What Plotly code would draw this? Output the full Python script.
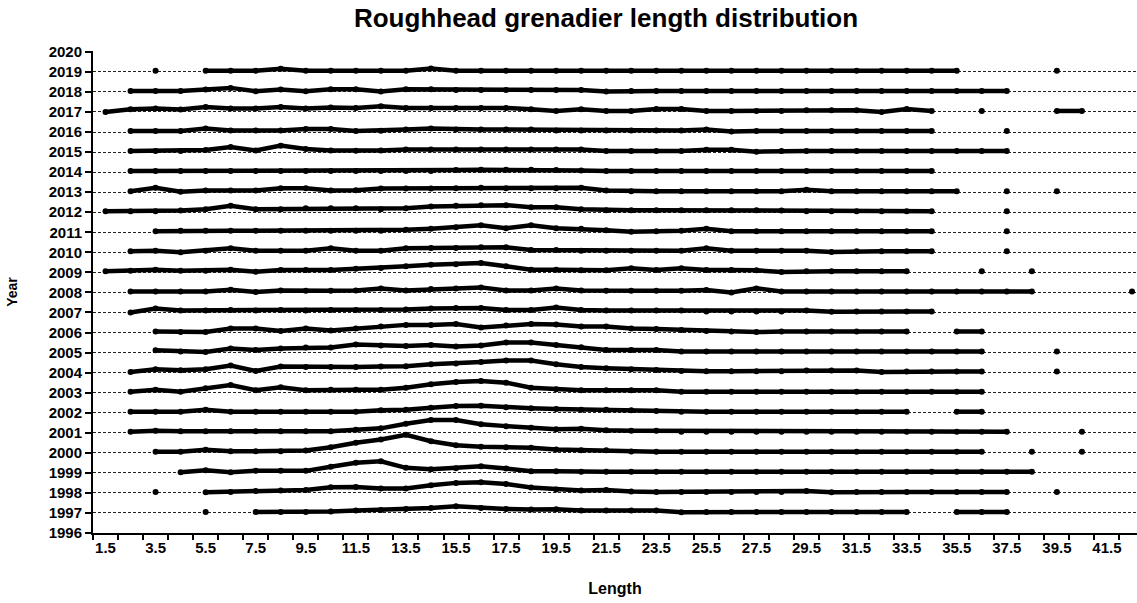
import plotly.graph_objects as go

N = None
lengths = [1.5, 2.5, 3.5, 4.5, 5.5, 6.5, 7.5, 8.5, 9.5, 10.5, 11.5, 12.5, 13.5, 14.5,
           15.5, 16.5, 17.5, 18.5, 19.5, 20.5, 21.5, 22.5, 23.5, 24.5, 25.5, 26.5, 27.5,
           28.5, 29.5, 30.5, 31.5, 32.5, 33.5, 34.5, 35.5, 36.5, 37.5, 38.5, 39.5, 40.5,
           41.5, 42.5]
x_labels = ["1.5", "3.5", "5.5", "7.5", "9.5", "11.5", "13.5", "15.5", "17.5", "19.5", "21.5",
            "23.5", "25.5", "27.5", "29.5", "31.5", "33.5", "35.5", "37.5", "39.5", "41.5"]
class_bounds = [1, 2, 3, 4, 5, 6, 7, 8, 9, 10, 11, 12, 13, 14, 15, 16, 17, 18, 19, 20, 21,
                22, 23, 24, 25, 26, 27, 28, 29, 30, 31, 32, 33, 34, 35, 36, 37, 38, 39, 40,
                41, 42]
years = list(range(1996, 2021))

# relative frequency (offset above the year baseline), one value per length class
f1997 = [N, N, N, N, .05, N, .05, .05, .05, .07,
         .12, .15, .2, .25, .33, .25, .2, .17, .18, .12,
         .12, .12, .12, .04, .05, .05, .05, .05, .05, .05,
         .05, .05, .05, N, .05, .05, .05, N, N, N, N, N]
f1998 = [N, N, .05, N, .03, .05, .1, .12, .15, .28,
         .3, .22, .22, .38, .5, .53, .45, .27, .17, .12,
         .15, .07, .05, .05, .05, .05, .05, .05, .1, .03,
         .05, .05, .05, .05, .05, .05, .05, N, .05, N, N, N]
f1999 = [N, N, N, .03, .13, .03, .1, .1, .1, .3,
         .5, .58, .25, .18, .23, .33, .22, .08, .08, .05,
         .05, .05, .05, .05, .05, .05, .05, .05, .05, .05,
         .05, .05, .05, .05, .05, .05, .05, .05, N, N, N, N]
f2000 = [N, N, .05, .05, .15, .08, .08, .08, .12, .28,
         .5, .66, .9, .58, .38, .3, .28, .25, .17, .13,
         .13, .07, .05, .05, .05, .05, .05, .05, .05, .05,
         .05, .05, .05, .05, .05, .05, N, .05, N, .05, N, N]
f2001 = [N, .05, .1, .08, .08, .08, .08, .08, .08, .08,
         .15, .22, .45, .63, .63, .42, .33, .25, .17, .2,
         .12, .1, .1, .05, .05, .05, .05, .05, .05, .05,
         .05, .05, .05, .05, .05, .05, .05, N, N, .05, N, N]
f2002 = [N, .05, .05, .05, .15, .05, .05, .05, .05, .05,
         .05, .12, .15, .25, .33, .35, .27, .22, .18, .15,
         .15, .12, .08, .05, .05, .05, .05, .05, .05, .05,
         .05, .05, .05, N, .05, .05, N, N, N, N, N, N]
f2003 = [N, .05, .15, .05, .22, .38, .12, .27, .12, .15,
         .15, .15, .25, .42, .53, .58, .5, .25, .17, .12,
         .12, .12, .12, .05, .05, .05, .05, .05, .05, .05,
         .05, .05, .05, .05, .05, .05, N, N, N, N, N, N]
f2004 = [N, .03, .17, .12, .17, .35, .08, .3, .28, .28,
         .28, .3, .32, .42, .45, .53, .6, .6, .42, .28,
         .22, .17, .13, .08, .07, .07, .07, .07, .1, .1,
         .1, .03, .05, .05, .05, .05, N, N, .05, N, N, N]
f2005 = [N, N, .12, .05, .03, .2, .13, .2, .25, .25,
         .4, .35, .33, .38, .3, .35, .5, .5, .38, .27,
         .13, .13, .13, .05, .05, .05, .05, .05, .05, .05,
         .05, .05, .05, .05, .05, .05, N, N, .05, N, N, N]
f2006 = [N, N, .05, .02, .02, .2, .2, .08, .2, .1,
         .2, .3, .38, .38, .42, .25, .35, .42, .4, .3,
         .3, .2, .17, .13, .08, .05, .02, .05, .05, .05,
         .05, .05, .05, N, .05, .05, N, N, N, N, N, N]
f2007 = [N, .0, .2, .1, .1, .12, .1, .12, .1, .12,
         .12, .12, .15, .2, .22, .22, .12, .12, .25, .12,
         .1, .1, .1, .1, .05, .05, .05, .05, .1, .03,
         .05, .05, .05, .05, N, N, N, N, N, N, N, N]
f2008 = [N, .05, .05, .05, .05, .13, .02, .1, .08, .08,
         .1, .2, .1, .17, .2, .25, .1, .1, .2, .1,
         .08, .08, .08, .08, .12, .0, .2, .05, .05, .05,
         .05, .05, .05, .05, .05, .05, .05, .05, N, N, N, .05]
f2009 = [.05, .08, .13, .08, .08, .13, .03, .12, .12, .12,
         .18, .22, .3, .38, .4, .47, .3, .13, .13, .1,
         .1, .2, .12, .2, .12, .12, .1, .02, .05, .05,
         .05, .05, .05, N, N, .05, N, .05, N, N, N, N]
f2010 = [N, .05, .08, .0, .08, .2, .08, .08, .08, .2,
         .08, .08, .2, .22, .22, .25, .25, .12, .12, .08,
         .08, .08, .08, .08, .2, .08, .08, .08, .08, .02,
         .05, .05, .05, .05, N, N, .05, N, N, N, N, N]
f2011 = [N, N, .05, .07, .07, .07, .07, .07, .07, .07,
         .07, .07, .12, .18, .25, .35, .2, .35, .2, .17,
         .1, .02, .05, .08, .17, .05, .05, .05, .05, .05,
         .05, .05, .05, .05, N, N, .05, N, N, N, N, N]
f2012 = [.05, .05, .05, .08, .15, .32, .15, .15, .2, .2,
         .2, .15, .2, .28, .32, .35, .35, .25, .25, .15,
         .1, .1, .1, .1, .1, .1, .1, .08, .05, .05,
         .05, .05, .05, .05, N, N, .05, N, N, N, N, N]
f2013 = [N, .05, .22, .02, .08, .08, .08, .2, .2, .08,
         .1, .18, .18, .18, .2, .22, .2, .2, .2, .22,
         .08, .05, .05, .05, .05, .05, .05, .05, .12, .05,
         .05, .05, .05, .05, .05, N, .05, N, .05, N, N, N]
f2014 = [N, .05, .05, .05, .05, .05, .05, .05, .05, .05,
         .05, .05, .05, .05, .1, .12, .12, .12, .1, .08,
         .05, .05, .05, .05, .05, .05, .05, .05, .05, .05,
         .05, .05, .05, .05, N, N, N, N, N, N, N, N]
f2015 = [N, .05, .05, .05, .1, .25, .08, .32, .15, .08,
         .06, .08, .13, .13, .13, .13, .13, .13, .13, .13,
         .05, .05, .05, .05, .12, .12, .02, .05, .05, .05,
         .05, .05, .05, .05, .05, .05, .05, N, N, N, N, N]
f2016 = [N, .05, .05, .05, .17, .08, .08, .08, .15, .15,
         .05, .06, .12, .17, .12, .12, .12, .12, .08, .07,
         .07, .07, .07, .07, .13, .03, .05, .05, .05, .05,
         .05, .05, .05, .05, N, N, .05, N, N, N, N, N]
f2017 = [.0, .13, .17, .12, .25, .17, .17, .25, .17, .22,
         .2, .28, .2, .2, .2, .2, .2, .13, .05, .13,
         .05, .05, .15, .15, .05, .05, .05, .05, .08, .08,
         .08, .0, .15, .05, N, .05, N, N, .05, .05, N, N]
f2018 = [N, .05, .05, .05, .12, .2, .03, .12, .03, .13,
         .13, .02, .13, .13, .1, .1, .1, .1, .1, .1,
         .02, .05, .05, .05, .05, .05, .05, .05, .05, .05,
         .05, .05, .05, .05, .05, .05, .05, N, N, N, N, N]
f2019 = [N, N, .05, N, .05, .05, .05, .15, .05, .05,
         .05, .05, .05, .17, .05, .05, .05, .05, .05, .05,
         .05, .05, .05, .05, .05, .05, .05, .05, .05, .05,
         .05, .05, .05, .05, .05, N, N, N, .05, N, N, N]

series = [(1997, f1997), (1998, f1998), (1999, f1999), (2000, f2000), (2001, f2001),
          (2002, f2002), (2003, f2003), (2004, f2004), (2005, f2005), (2006, f2006),
          (2007, f2007), (2008, f2008), (2009, f2009), (2010, f2010), (2011, f2011),
          (2012, f2012), (2013, f2013), (2014, f2014), (2015, f2015), (2016, f2016),
          (2017, f2017), (2018, f2018), (2019, f2019)]

FONT = "Liberation Sans, Arial, sans-serif"
fig = go.Figure()
for yr, vals in series:
    yv = [None if v is None else yr + v for v in vals]
    fig.add_trace(go.Scatter(
        x=lengths, y=yv, mode="lines+markers", name=str(yr),
        connectgaps=False,
        line=dict(color="black", width=4.5),
        marker=dict(color="black", size=6, symbol="circle"),
        showlegend=False,
    ))

fig.update_layout(
    width=1137, height=603,
    margin=dict(l=93, r=0, t=51, b=70),
    paper_bgcolor="white", plot_bgcolor="white",
    title=dict(text="<b>Roughhead grenadier length distribution</b>",
               x=0.533, xanchor="center", y=0.97, yanchor="middle",
               font=dict(family=FONT, size=26, color="black")),
    font=dict(family=FONT, color="black"),
    xaxis=dict(
        range=[1.0, 42.7], showgrid=False, zeroline=False,
        showline=True, linecolor="black", linewidth=2,
        tickvals=[float(s) for s in x_labels], ticktext=["<b>%s</b>" % s for s in x_labels],
        ticks="", tickfont=dict(family=FONT, size=15, color="black"),
        minor=dict(tickvals=class_bounds,
                   ticks="outside", ticklen=5, tickcolor="black", tickwidth=2),
        title=dict(text="<b>Length</b>", font=dict(family=FONT, size=16, color="black"),
                   standoff=28),
    ),
    yaxis=dict(
        range=[1996, 2020.04], zeroline=False,
        showline=True, linecolor="black", linewidth=2,
        tickvals=years, ticktext=["<b>%d</b>" % y for y in years],
        ticks="outside", ticklen=6, tickcolor="black", tickwidth=1.5,
        tickfont=dict(family=FONT, size=15, color="black"),
        showgrid=True, gridcolor="#222222", gridwidth=1, griddash="3px,2px",
        title=dict(text="<b>Year</b>", font=dict(family=FONT, size=14, color="black"),
                   standoff=28),
    ),
)
fig.write_html("out.html")
